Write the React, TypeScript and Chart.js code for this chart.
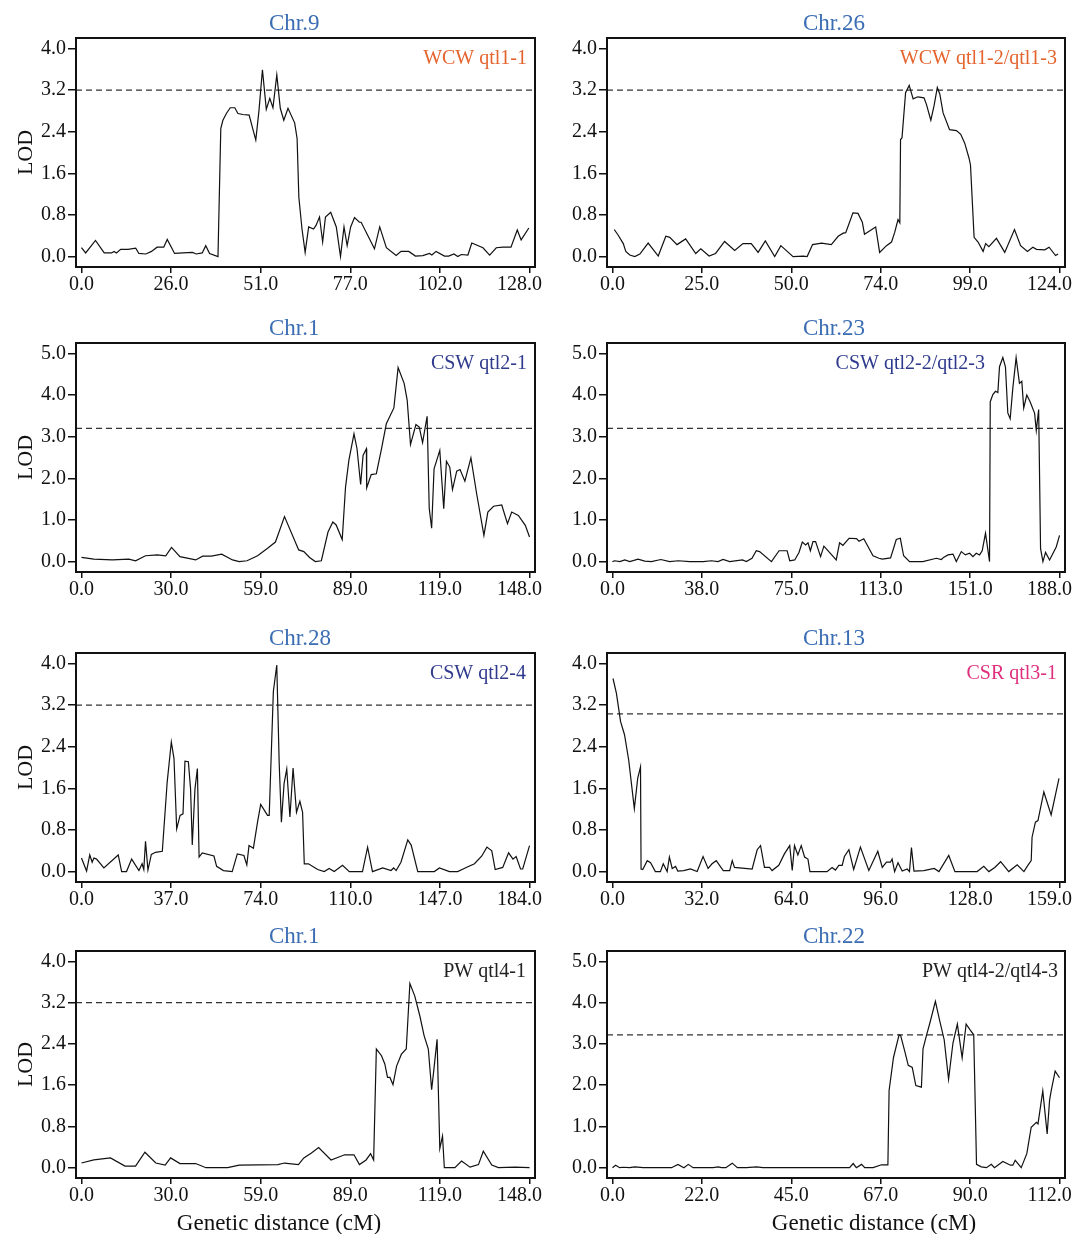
import React, { useEffect, useRef } from "react";
import { Chart, registerables } from "chart.js";

Chart.register(...registerables);

// ---------- data ----------
const chr9_cM = [0,1.2,4.0,6.5,8.6,9.3,10,11.2,13.3,15.5,16.4,18.4,20,21.6,23.5,24.5,26.6,29,31.7,32.8,34.5,35.5,36.6,39,39.8,40.4,41.4,42.5,43.8,44.7,46.1,47.9,49,49.8,50.7,51.7,52.8,53.8,54.7,55.8,56.8,57.8,59,60.9,61.6,62.1,63,63.9,64.9,66.3,67,68,68.9,69.7,71.2,72.8,74,75,75.9,76.9,78,79.4,79.9,83.7,85.2,87.1,89.9,91.3,93.5,95.4,97.5,99.4,100.1,101.3,103.7,104.9,106.4,107.5,108.5,110.4,111.5,114.7,116.6,118.5,120.4,122.7,124.5,125.6,127.8];
const chr9_LOD = [0.17,0.07,0.31,0.07,0.07,0.10,0.07,0.14,0.14,0.16,0.06,0.05,0.10,0.18,0.18,0.33,0.06,0.07,0.08,0.05,0.07,0.21,0.06,0,2.46,2.62,2.75,2.86,2.86,2.75,2.73,2.72,2.44,2.24,2.80,3.59,2.83,3.04,2.86,3.49,2.85,2.62,2.85,2.57,2.27,1.14,0.53,0.08,0.57,0.53,0.60,0.76,0.28,0.76,0.85,0.57,0,0.57,0.21,0.57,0.75,0.66,0.66,0.15,0.57,0.17,0.02,0.10,0.10,0.01,0.02,0.06,0.03,0.10,0.01,0.01,0.05,0,0.04,0.03,0.26,0.17,0.03,0.17,0.18,0.18,0.51,0.32,0.55];

const chr26_cM = [0.5,1.6,3,3.7,4.8,6.2,7.6,9.9,12.7,14.8,15.9,17.9,20.3,23.1,24.5,26.8,28.6,31.1,33.9,36.2,38.5,40.4,42.4,45,46.7,50.1,52.9,54,55.5,58,60.7,62.6,64,64.7,66.7,68.1,69.3,69.9,73,74.1,76,77.4,78.3,79.2,79.7,79.9,80.3,81.3,82.3,83.4,84.7,86.4,87.1,88.3,89.2,90.1,90.8,91.7,93.5,95.4,96.6,97.7,98.9,99.3,100.3,101.4,102.8,103.5,104.4,106.5,108.8,111.5,113.2,115.1,116.6,117.6,119.9,121.1,122.9,123.6];
const chr26_LOD = [0.52,0.41,0.25,0.10,0.03,0,0.05,0.26,0.01,0.39,0.37,0.23,0.34,0.06,0.15,0.01,0.06,0.29,0.12,0.25,0.25,0.08,0.30,0,0.21,0,0.01,0,0.23,0.26,0.23,0.39,0.45,0.46,0.84,0.83,0.66,0.43,0.57,0.08,0.21,0.28,0.47,0.71,0.65,2.25,2.28,3.15,3.29,3.03,3.07,3.05,2.92,2.62,2.90,3.25,3.12,2.76,2.44,2.42,2.35,2.18,1.89,1.76,0.37,0.28,0.10,0.25,0.19,0.35,0.08,0.52,0.21,0.10,0.18,0.14,0.13,0.18,0.02,0.05];

const chr1csw_cM = [0,4.1,10.2,15.7,17.9,21.2,25.1,27.9,29.8,32.6,37.8,40.1,43,46.4,50,52.2,54.8,58.3,61.6,64.2,67.2,71.9,73.6,75.5,77.4,79.4,81.6,83.2,84.3,86.3,87.4,88.5,90.2,91.2,92.4,93.2,94.3,94.4,95.9,97.6,99.3,100.9,103.4,104.8,106.8,107.8,108.9,110.7,111.8,112.9,114.4,115.1,115.9,116.7,118.6,119.9,120.8,121.9,122.8,124.2,125.3,126.9,128.9,130.8,133.2,134.5,136.4,139.1,141,142.4,144.6,146.9,148.3];
const chr1csw_LOD = [0.10,0.06,0.04,0.06,0.02,0.14,0.16,0.14,0.34,0.12,0.04,0.13,0.13,0.18,0.04,0,0.02,0.14,0.32,0.47,1.08,0.28,0.24,0.10,0,0.02,0.71,0.95,0.88,0.53,1.79,2.43,3.07,2.71,1.85,2.55,2.71,1.77,2.09,2.11,2.71,3.31,3.69,4.66,4.28,3.88,2.81,3.29,3.23,2.86,3.49,1.28,0.80,2.23,2.67,1.27,2.41,2.27,1.73,2.17,2.21,1.93,2.49,1.63,0.63,1.19,1.33,1.36,0.91,1.19,1.11,0.87,0.59];

const chr23_cM = [0,1,3.1,5.2,7.3,10.8,13.6,16.4,20.4,24.1,27.7,32.6,38.2,41.7,44.5,46.6,49.4,54.8,56.4,58.8,60.6,62,67,70.2,73.6,74.7,76.8,78.6,80,81.4,82.4,83.4,84.5,85.6,87.7,89.1,94.3,95.7,97.1,99.7,102.8,103.9,105.9,109.8,112.3,113.7,117.2,119.6,121.3,122.7,125.2,130.8,136.5,138.6,139.5,141.4,143.5,144.9,147,148.7,150.5,151.9,153.3,154.7,155.8,157.2,158.9,159.2,160.3,161.4,162.4,163.1,164.5,165.6,166.6,167.6,168.7,170.1,171.5,172.5,173.3,174.6,176,177.9,178.6,179.6,180.4,181.4,182.5,184.2,187,188.4];
const chr23_LOD = [0,0.02,0,0.04,0,0.06,0.01,0,0.05,0,0.02,0,0,0.02,0,0.05,0,0.04,0,0.08,0.26,0.24,0,0.26,0.26,0.02,0.04,0.22,0.47,0.40,0.45,0.26,0.48,0.48,0.12,0.37,0.04,0.45,0.39,0.56,0.55,0.49,0.55,0.14,0.08,0.06,0.09,0.53,0.56,0.14,0,0,0.08,0.05,0.10,0.16,0.18,0,0.24,0.16,0.20,0.12,0.20,0.16,0.26,0.68,0,3.84,4.01,4.09,4.06,4.68,4.90,4.68,3.57,3.43,4.16,4.90,4.28,4.33,3.69,4.00,3.84,3.56,3.15,3.65,0.31,0,0.22,0.04,0.35,0.63];

const chr28_cM = [0,2.1,3.4,4.4,5.1,6.2,9.2,15.1,16.5,18.5,20.6,23.6,24.9,25.6,26.3,27.3,28.7,30.4,33.2,35.2,36.9,38,39.1,40.5,41.7,42.5,43.9,44.8,45.5,46.6,47.6,48.3,49.6,54.4,55.5,58.3,61.9,64,66.7,67.9,68.8,70.6,72.3,73.6,76.4,77.1,78.8,80.2,81.2,82.1,83.2,84.3,85.6,86.9,88.3,89.7,90.8,91.5,93.2,97,99.7,101.7,103.8,107.2,110,115.4,117.5,119.5,123.7,127.1,128.2,129.2,131.2,134,135.4,138.1,144.9,147,151.1,154.5,158,161.4,164.4,166.5,168.5,169.9,173,175.4,177.2,178.5,180.3,181.2,184];
const chr28_LOD = [0.26,0.01,0.32,0.18,0.26,0.24,0.07,0.32,0,0,0.24,0.02,0.15,0.04,0.58,0.03,0.33,0.37,0.39,1.72,2.49,2.17,0.82,1.08,1.11,2.12,2.11,1.59,0.51,1.58,1.98,0.28,0.36,0.30,0.10,0.02,0,0.34,0.31,0.13,0.50,0.45,0.95,1.29,1.08,1.08,3.46,3.97,2.08,0.95,1.69,1.97,1.05,1.99,1.14,1.35,1.14,0.15,0.15,0.04,0,0.06,0,0.12,0,0,0.47,0,0.07,0.02,0.07,0.02,0.18,0.61,0.51,0,0,0.07,0,0,0.08,0.15,0.30,0.47,0.40,0.04,0.08,0.36,0.24,0.29,0.05,0.05,0.50];

const chr13_cM = [0.2,1.4,2.9,4.3,5.8,7.8,9,10,10.2,10.8,12.4,13.6,15.3,17.1,18.1,19.5,20.3,21.3,22.5,23.3,25.4,27.8,30.2,32.3,34.1,35.5,37,39.5,41.8,42.7,43.5,49.8,51.6,52.8,54.2,56,56.9,59.3,61.3,63.2,64.1,64.9,66.1,67.3,68.5,69.7,70.4,76.5,78.3,79.5,80.7,81.9,82.7,84.3,86,88.4,91.4,94.6,96.2,97.7,99.1,99.7,100.6,101.8,103.3,105.1,105.9,106.6,107.5,111,114.7,116.4,119.9,122.1,130,132.4,134.2,136.3,138.4,141.3,144.3,146.7,148.1,149.3,149.6,150.8,151.7,153.8,156.4,159.2];
const chr13_LOD = [3.71,3.43,2.88,2.63,2.14,1.21,1.79,2.01,0.05,0.04,0.21,0.17,0,0,0.15,0,0.28,0.06,0.10,0.01,0.02,0.05,0,0.29,0.06,0.15,0.21,0.02,0.02,0.21,0.08,0.05,0.42,0.50,0.08,0.08,0.02,0.12,0.34,0.50,0.02,0.50,0.32,0.50,0.28,0.24,0,0,0.08,0.03,0.12,0.12,0.29,0.42,0.04,0.47,0.02,0.39,0.08,0.18,0.18,0.24,0,0.17,0.01,0.05,0,0.46,0.01,0.02,0.06,0,0.31,0,0,0.10,0,0.08,0.19,0,0.13,0,0.12,0.21,0.66,0.95,0.98,1.53,1.09,1.79];

const chr1pw_cM = [0,4.1,9.6,14.4,17.9,21,24.6,27.7,29.5,32.6,37.8,41.2,48.4,52.2,65,67.2,71.8,73.6,76,78.5,82.6,87.1,90.2,92,94.2,95.7,96.7,97.6,99.3,100.4,101.3,102.1,103.1,104.3,105.9,107.5,108.7,110.3,112,113.4,114.8,115.9,116.6,117.7,118.6,119.5,120.1,123.6,125.8,128.6,131.4,133,135.8,138,143.5,148.3];
const chr1pw_LOD = [0.09,0.15,0.19,0.03,0.03,0.30,0.09,0.05,0.19,0.08,0.08,0,0,0.05,0.06,0.09,0.06,0.19,0.28,0.39,0.15,0.25,0.25,0.06,0.15,0.27,0.15,2.30,2.17,2.01,1.75,1.75,1.61,1.97,2.20,2.30,3.57,3.33,2.94,2.56,2.30,1.51,1.88,2.49,0.37,0.61,0,0,0.13,0.01,0.06,0.32,0.05,0,0.01,0];

const chr22_cM = [0,0.8,1.8,2.7,4.3,5.6,7.7,8.9,14.8,16.4,17.9,19,20.2,25.2,26.5,27.3,28.4,30,31.3,33.6,36.1,37.7,59.4,60.3,61.1,62.4,63.2,65.3,67.4,69,69.3,70.4,71.8,72.2,73.2,74.1,75.1,76,77.4,77.8,78.7,79.5,80.9,82,83.1,84.2,85.3,86.4,87.6,88.6,89.6,90.5,91.2,92.4,93.7,94.9,95.7,97.8,99.7,100.3,100.9,102.4,103.8,104.9,106.2,106.6,107.8,108.9,109.5,109.9,110.9,112];
const chr22_LOD = [0,0.06,0,0.01,0,0.02,0,0,0,0.08,0,0.08,0,0,0.02,0,0,0.11,0,0,0.02,0,0,0.10,0,0.08,0,0,0.07,0.07,1.87,2.67,3.22,3.20,2.83,2.48,2.43,1.99,1.95,2.88,3.22,3.50,4.03,3.55,3.10,2.14,3.02,3.48,2.66,3.48,3.34,3.22,0.08,0.02,0,0.08,0,0.15,0.06,0.06,0.18,0,0.34,0.98,1.10,1.06,1.86,0.82,1.63,1.86,2.34,2.18];

const panelTitles = ["Chr.9", "Chr.26", "Chr.1", "Chr.23", "Chr.28", "Chr.13", "Chr.1", "Chr.22"];
const qtlLabels = ["WCW qtl1-1", "WCW qtl1-2/qtl1-3", "CSW qtl2-1", "CSW qtl2-2/qtl2-3", "CSW qtl2-4", "CSR qtl3-1", "PW qtl4-1", "PW qtl4-2/qtl4-3"];
const thresholds = [3.2, 3.2, 3.2, 3.2, 3.2, 3.03, 3.2, 3.22];
const chromLengths = [128, 124, 148.3, 188.4, 184, 159.4, 148.3, 112];

const xTicks9 = ["0.0", "26.0", "51.0", "77.0", "102.0", "128.0"];
const xTicks26 = ["0.0", "25.0", "50.0", "74.0", "99.0", "124.0"];
const xTicks1 = ["0.0", "30.0", "59.0", "89.0", "119.0", "148.0"];
const xTicks23 = ["0.0", "38.0", "75.0", "113.0", "151.0", "188.0"];
const xTicks28 = ["0.0", "37.0", "74.0", "110.0", "147.0", "184.0"];
const xTicks13 = ["0.0", "32.0", "64.0", "96.0", "128.0", "159.0"];
const xTicks22 = ["0.0", "22.0", "45.0", "67.0", "90.0", "112.0"];

const yTicks4 = ["0.0", "0.8", "1.6", "2.4", "3.2", "4.0"];
const yTicks5 = ["0.0", "1.0", "2.0", "3.0", "4.0", "5.0"];

// ---------- styles ----------
const FONT = '"Liberation Serif", "Times New Roman", serif';
const TITLE_COLOR = "#3a6db3";
const ORANGE = "#e5642e";
const NAVY = "#2f3a8d";
const PINK = "#df2f7d";
const DARK = "#222222";

const panels = [
  { x: chr9_cM, y: chr9_LOD, xt: xTicks9, yt: yTicks4, color: ORANGE, qtlRight: 527 },
  { x: chr26_cM, y: chr26_LOD, xt: xTicks26, yt: yTicks4, color: ORANGE, qtlRight: 1057 },
  { x: chr1csw_cM, y: chr1csw_LOD, xt: xTicks1, yt: yTicks5, color: NAVY, qtlRight: 527 },
  { x: chr23_cM, y: chr23_LOD, xt: xTicks23, yt: yTicks5, color: NAVY, qtlRight: 985 },
  { x: chr28_cM, y: chr28_LOD, xt: xTicks28, yt: yTicks4, color: NAVY, qtlRight: 526 },
  { x: chr13_cM, y: chr13_LOD, xt: xTicks13, yt: yTicks4, color: PINK, qtlRight: 1057 },
  { x: chr1pw_cM, y: chr1pw_LOD, xt: xTicks1, yt: yTicks4, color: DARK, qtlRight: 526 },
  { x: chr22_cM, y: chr22_LOD, xt: xTicks22, yt: yTicks5, color: DARK, qtlRight: 1058 },
];

const cols = [
  { cx: 0, w: 545, left: 76, right: 535, titleX: 269, xlabX: 279 },
  { cx: 545, w: 529, left: 607, right: 1065, titleX: 803, xlabX: 874 },
];
const rows = [
  { cy: 0, h: 305, top: 38, bottom: 267 },
  { cy: 305, h: 310, top: 343, bottom: 572 },
  { cy: 615, h: 300, top: 653, bottom: 882 },
  { cy: 915, h: 319, top: 951, bottom: 1178 },
];

const XAXIS_H = 30;
const XPAD = 0.0122;

function Panel({ idx }: { idx: number }) {
  const ref = useRef<HTMLCanvasElement>(null);
  const col = cols[idx % 2];
  const row = rows[Math.floor(idx / 2)];
  const p = panels[idx];

  useEffect(() => {
    if (!ref.current) return;
    const L = chromLengths[idx];
    const xmin = -L * XPAD;
    const xmax = L * (1 + XPAD);
    const yTop = parseFloat(p.yt[p.yt.length - 1]);
    const ymin = -yTop * 0.05;
    const ymax = yTop * 1.05;
    const yVals = p.yt.map((s) => parseFloat(s));
    const thr = thresholds[idx];
    const isLeft = idx % 2 === 0;
    const isBottom = idx >= 6;

    const decor = {
      id: "decor" + idx,
      afterDraw(chart: any) {
        const { ctx, chartArea: a } = chart;
        ctx.save();
        ctx.strokeStyle = "#111";
        ctx.lineWidth = 2;
        ctx.strokeRect(a.left, a.top, a.right - a.left, a.bottom - a.top);
        ctx.textBaseline = "alphabetic";
        ctx.fillStyle = TITLE_COLOR;
        ctx.font = "23px " + FONT;
        ctx.textAlign = "left";
        ctx.fillText(panelTitles[idx], col.titleX - col.cx, a.top - 8);
        ctx.fillStyle = p.color;
        ctx.font = "20px " + FONT;
        ctx.textAlign = "right";
        ctx.fillText(qtlLabels[idx], p.qtlRight - col.cx, a.top + 26);
        ctx.fillStyle = "#111";
        if (isLeft) {
          ctx.save();
          ctx.translate(31.5 - col.cx, (a.top + a.bottom) / 2);
          ctx.rotate(-Math.PI / 2);
          ctx.font = "22px " + FONT;
          ctx.textAlign = "center";
          ctx.fillText("LOD", 0, 0);
          ctx.restore();
        }
        if (isBottom) {
          ctx.font = "23px " + FONT;
          ctx.textAlign = "center";
          ctx.fillText("Genetic distance (cM)", col.xlabX - col.cx, 1230 - row.cy);
        }
        ctx.restore();
      },
    };

    const chart = new Chart(ref.current, {
      type: "line",
      data: {
        datasets: [
          {
            data: p.x.map((v, i) => ({ x: v, y: p.y[i] })),
            borderColor: "#111",
            borderWidth: 1.2,
            pointRadius: 0,
            tension: 0,
            fill: false,
          },
          {
            data: [
              { x: xmin, y: thr },
              { x: xmax, y: thr },
            ],
            borderColor: "#333",
            borderWidth: 1.2,
            borderDash: [6, 4],
            pointRadius: 0,
            fill: false,
          },
        ],
      },
      options: {
        animation: false,
        responsive: false,
        devicePixelRatio: 1,
        events: [],
        layout: {
          padding: {
            left: 0,
            top: row.top - row.cy,
            right: col.cx + col.w - col.right,
            bottom: row.cy + row.h - row.bottom - XAXIS_H,
          },
        },
        plugins: { legend: { display: false }, tooltip: { enabled: false }, title: { display: false } },
        scales: {
          x: {
            type: "linear",
            min: xmin,
            max: xmax,
            afterBuildTicks: (s: any) => {
              s.ticks = p.xt.map((_, i) => ({ value: (i * L) / 5 }));
            },
            afterFit: (s: any) => {
              s.height = XAXIS_H;
              s.paddingLeft = 0;
              s.paddingRight = 0;
            },
            grid: { drawOnChartArea: false, drawTicks: true, tickLength: 6, color: "#111", lineWidth: 1.5 },
            border: { display: true, color: "#111", width: 2 },
            ticks: {
              autoSkip: false,
              maxRotation: 0,
              minRotation: 0,
              padding: 0,
              color: "#111",
              font: { family: FONT, size: 20 },
              callback: (_v: any, i: number) => (i === 5 ? p.xt[i] + "\u2007\u2007" : p.xt[i]),
            },
          },
          y: {
            type: "linear",
            min: ymin,
            max: ymax,
            afterBuildTicks: (s: any) => {
              s.ticks = yVals.map((v) => ({ value: v }));
            },
            afterFit: (s: any) => {
              s.width = col.left - col.cx;
              s.paddingTop = 0;
              s.paddingBottom = 0;
            },
            grid: { drawOnChartArea: false, drawTicks: true, tickLength: 8, color: "#111", lineWidth: 1.5 },
            border: { display: true, color: "#111", width: 2 },
            ticks: {
              autoSkip: false,
              padding: 2,
              color: "#111",
              font: { family: FONT, size: 20 },
              callback: (_v: any, i: number) => p.yt[i],
            },
          },
        },
      },
      plugins: [decor],
    } as any);
    return () => chart.destroy();
  }, [idx]);

  return (
    <canvas
      ref={ref}
      width={col.w}
      height={row.h}
      style={{ position: "absolute", left: col.cx, top: row.cy, width: col.w, height: row.h }}
    />
  );
}

export default function App() {
  return (
    <div style={{ position: "absolute", left: 0, top: 0, width: 1074, height: 1234, background: "#fff" }}>
      {panels.map((_, i) => (
        <Panel key={i} idx={i} />
      ))}
    </div>
  );
}
